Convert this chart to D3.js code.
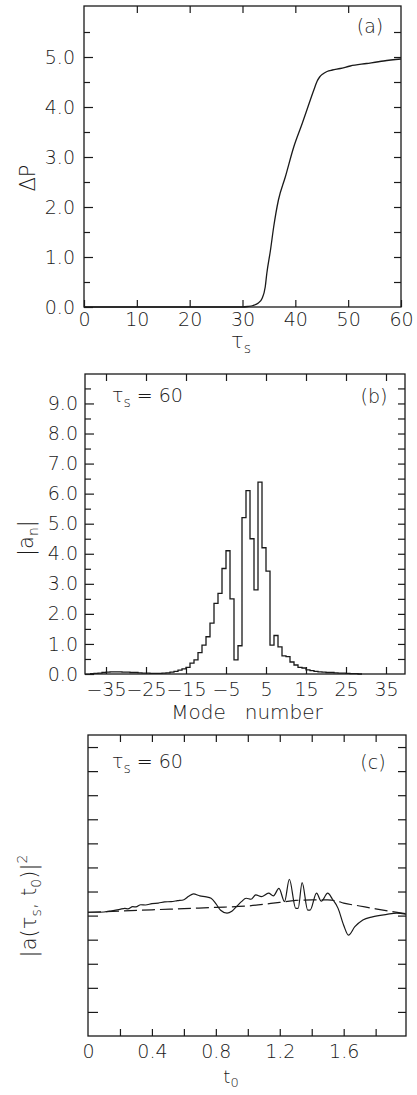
<!DOCTYPE html>
<html><head><meta charset="utf-8">
<script src="https://cdn.jsdelivr.net/npm/d3@7"></script>
<style>
body{margin:0;background:#fff}
svg text{font-family:'DejaVu Sans',sans-serif;font-weight:200;fill:#1a1a1a}
</style>
</head><body>
<svg id="chart" width="417" height="1095"></svg>
<script>
// ---------- Panel (a) data ----------
const tauS   = [0,10,20,28,30,31,32,33,33.7,34.3,34.6,35.3,35.9,36.8,38.1,39.7,41.3,42.7,43.5,44.1,44.6,45.2,46,47,48.5,50.4,53.5,56.7,60];
const deltaP = [0,0,0,0,0,0.01,0.03,0.08,0.17,0.4,0.67,1.14,1.6,2.14,2.6,3.2,3.67,4.1,4.34,4.51,4.6,4.66,4.71,4.74,4.77,4.82,4.87,4.92,4.96];
const aYLabels = [0,1,2,3,4,5];
const aXLabels = [0,10,20,30,40,50,60];

// ---------- Panel (b) data ----------
const modeNumbers = [-39,-38,-37,-36,-35,-34,-33,-32,-31,-30,-29,-28,-27,-26,-25,-24,-23,-22,-21,-20,-19,-18,-17,-16,-15,-14,-13,-12,-11,-10,-9,-8,-7,-6,-5,-4,-3,-2,-1,0,1,2,3,4,5,6,7,8,9,10,11,12,13,14,15,16,17,18,19,20,21,22,23,24,25,26,27,28];
const modeAmps    = [0.01,0.02,0.03,0.05,0.06,0.07,0.07,0.07,0.06,0.06,0.05,0.05,0.04,0.03,0.03,0.02,0.02,0.02,0.03,0.04,0.06,0.09,0.13,0.17,0.22,0.36,0.47,0.71,0.96,1.24,1.69,2.35,2.68,3.51,4.1,2.5,0.47,0.94,5.2,6.1,4.5,2.8,6.38,4.2,3.42,0.96,1.28,0.9,0.6,0.58,0.4,0.3,0.22,0.2,0.14,0.11,0.09,0.07,0.06,0.05,0.05,0.04,0.03,0.03,0.02,0.01,0.01,0];
const bYLabels = [0,1,2,3,4,5,6,7,8,9];
const bXLabels = [-35,-25,-15,-5,5,15,25,35];

// ---------- Panel (c) data ----------
const t0Solid  = [0,0.05,0.1,0.15,0.2,0.23,0.25,0.28,0.3,0.33,0.36,0.4,0.44,0.48,0.52,0.56,0.6,0.63,0.66,0.7,0.74,0.77,0.8,0.83,0.87,0.9,0.93,0.96,0.99,1.02,1.05,1.085,1.13,1.16,1.195,1.23,1.26,1.3,1.315,1.34,1.375,1.39,1.43,1.46,1.5,1.53,1.565,1.6,1.63,1.67,1.72,1.78,1.87,1.93,1.99];
const ampSolid = [5.14,5.14,5.15,5.2,5.26,5.3,5.28,5.37,5.36,5.45,5.44,5.5,5.52,5.57,5.58,5.62,5.66,5.8,5.9,5.82,5.78,5.72,5.5,5.22,5.1,5.18,5.38,5.58,5.72,5.68,5.86,5.79,5.93,5.82,6.13,5.58,6.51,5.3,5.3,6.37,5.23,5.23,5.93,5.6,5.93,5.68,5.3,4.6,4.19,4.54,4.82,4.95,5.05,5.1,5.06];
const t0Dashed  = [0,0.2,0.4,0.6,0.8,1.0,1.2,1.3,1.4,1.5,1.55,1.6,1.7,1.8,1.9,1.99];
const ampDashed = [5.14,5.19,5.24,5.29,5.34,5.4,5.55,5.63,5.65,5.65,5.62,5.52,5.4,5.28,5.17,5.08];
const cXLabels = [0,0.4,0.8,1.2,1.6];

const svg = d3.select('#chart');
const INK = '#1a1a1a';
const FS = 19;

function frame(g, x0, x1, y0, y1){
  g.append('rect').attr('x',x0).attr('y',y0).attr('width',x1-x0).attr('height',y1-y0)
   .attr('fill','none').attr('stroke',INK).attr('stroke-width',1.3);
}
function styleAxis(sel){
  sel.select('.domain').remove();
  sel.selectAll('line').attr('stroke',INK).attr('stroke-width',1.2);
  sel.selectAll('text').attr('font-size',FS).attr('fill',INK).attr('font-family',null);
}
function range(a,b,s){const r=[];for(let v=a;v<=b+1e-9;v+=s)r.push(+v.toFixed(4));return r;}

// ================= Panel (a) =================
{
  const L=84,R=401,T=6,B=307;
  const x=d3.scaleLinear([0,60],[L,R]);
  const y=d3.scaleLinear([0,6.02],[B,T]);
  const g=svg.append('g');
  frame(g,L,R,T,B);
  g.append('g').attr('transform',`translate(${L},0)`).call(d3.axisLeft(y).tickValues(aYLabels).tickSize(-9).tickPadding(9).tickFormat(d3.format('.1f'))).call(styleAxis);
  g.append('g').attr('transform',`translate(${L},0)`).call(d3.axisLeft(y).tickValues(range(0.5,5.5,1)).tickSize(-6).tickFormat('')).call(styleAxis);
  g.append('g').attr('transform',`translate(${R},0)`).call(d3.axisRight(y).tickValues(range(0.5,5.5,0.5)).tickSize(-7).tickFormat('')).call(styleAxis);
  g.append('g').attr('transform',`translate(0,${B})`).call(d3.axisBottom(x).tickValues(aXLabels).tickSize(-7).tickPadding(6).tickFormat(d3.format('d'))).call(styleAxis);
  g.append('g').attr('transform',`translate(0,${T})`).call(d3.axisTop(x).tickValues(aXLabels.slice(1,-1)).tickSize(-7).tickFormat('')).call(styleAxis);
  g.append('path').datum(tauS.map((t,i)=>[t,deltaP[i]]))
   .attr('d',d3.line().x(d=>x(d[0])).y(d=>y(d[1])).curve(d3.curveMonotoneX))
   .attr('fill','none').attr('stroke',INK).attr('stroke-width',1.3);
  g.append('text').attr('x',370).attr('y',33).attr('text-anchor','middle').attr('font-size',FS).text('(a)');
  g.append('text').attr('transform','translate(35,178) rotate(-90)').attr('text-anchor','middle').attr('font-size',FS+2).text('ΔP');
  const xl=g.append('text').attr('x',241).attr('y',348).attr('text-anchor','middle').attr('font-size',FS+2);
  xl.append('tspan').text('τ');
  xl.append('tspan').attr('dy',5).attr('font-size',14).text('s');
}

// ================= Panel (b) =================
{
  const L=85,R=405,T=374,B=674;
  const x=d3.scaleLinear([-40.25,39.75],[L,R]);
  const y=d3.scaleLinear([0,9.98],[B,T]);
  const g=svg.append('g');
  frame(g,L,R,T,B);
  g.append('g').attr('transform',`translate(${L},0)`).call(d3.axisLeft(y).tickValues(bYLabels).tickSize(-9).tickPadding(7).tickFormat(d3.format('.1f'))).call(styleAxis);
  g.append('g').attr('transform',`translate(${L},0)`).call(d3.axisLeft(y).tickValues(range(0.5,9.5,1)).tickSize(-6).tickFormat('')).call(styleAxis);
  g.append('g').attr('transform',`translate(${R},0)`).call(d3.axisRight(y).tickValues(range(0.5,9.5,0.5)).tickSize(-7).tickFormat('')).call(styleAxis);
  g.append('g').attr('transform',`translate(0,${B})`).call(d3.axisBottom(x).tickValues(bXLabels).tickSize(-7).tickPadding(9).tickFormat(d3.format('d'))).call(styleAxis);
  g.append('g').attr('transform',`translate(0,${T})`).call(d3.axisTop(x).tickValues(bXLabels).tickSize(-7).tickFormat('')).call(styleAxis);
  const pts=modeNumbers.map((n,i)=>[n,modeAmps[i]]);
  pts.push([modeNumbers[modeNumbers.length-1]+1, modeAmps[modeAmps.length-1]]);
  g.append('path').datum(pts)
   .attr('d',d3.line().x(d=>x(d[0])).y(d=>y(d[1])).curve(d3.curveStepAfter))
   .attr('fill','none').attr('stroke',INK).attr('stroke-width',1.3);
  g.append('text').attr('x',374).attr('y',403).attr('text-anchor','middle').attr('font-size',FS).text('(b)');
  const tl=g.append('text').attr('x',112).attr('y',402).attr('font-size',FS);
  tl.append('tspan').text('τ');
  tl.append('tspan').attr('dy',5).attr('font-size',14).text('s');
  tl.append('tspan').attr('dy',-5).text(' = 60');
  const yl=g.append('text').attr('transform','translate(33,538) rotate(-90)').attr('text-anchor','middle').attr('font-size',FS+2);
  yl.append('tspan').text('|a');
  yl.append('tspan').attr('dy',5).attr('font-size',14).text('n');
  yl.append('tspan').attr('dy',-5).text('|');
  g.append('text').attr('x',247).attr('y',719).attr('text-anchor','middle').attr('font-size',FS+1).style('white-space','pre').text('Mode   number');
}

// ================= Panel (c) =================
{
  const L=88,R=406,T=735,B=1036;
  const x=d3.scaleLinear([0,1.99],[L,R]);
  const y=d3.scaleLinear([0,12.5],[B,T]);
  const g=svg.append('g');
  frame(g,L,R,T,B);
  g.append('g').attr('transform',`translate(${L},0)`).call(d3.axisLeft(y).tickValues(range(1,12,1)).tickSize(-10).tickFormat('')).call(styleAxis);
  g.append('g').attr('transform',`translate(${R},0)`).call(d3.axisRight(y).tickValues(range(1,12,1)).tickSize(-8).tickFormat('')).call(styleAxis);
  g.append('g').attr('transform',`translate(0,${B})`).call(d3.axisBottom(x).tickValues(range(0.2,1.8,0.2)).tickSize(-7).tickFormat('')).call(styleAxis);
  g.append('g').attr('transform',`translate(0,${B})`).call(d3.axisBottom(x).tickValues(cXLabels).tickSize(0).tickPadding(9).tickFormat(d=>d===0?'0':d3.format('.1f')(d))).call(styleAxis);
  g.append('g').attr('transform',`translate(0,${T})`).call(d3.axisTop(x).tickValues(range(0.2,1.8,0.2)).tickSize(-7).tickFormat('')).call(styleAxis);
  g.append('path').datum(t0Dashed.map((t,i)=>[t,ampDashed[i]]))
   .attr('d',d3.line().x(d=>x(d[0])).y(d=>y(d[1])).curve(d3.curveMonotoneX))
   .attr('fill','none').attr('stroke',INK).attr('stroke-width',1.2).attr('stroke-dasharray','13,5');
  g.append('path').datum(t0Solid.map((t,i)=>[t,ampSolid[i]]))
   .attr('d',d3.line().x(d=>x(d[0])).y(d=>y(d[1])).curve(d3.curveMonotoneX))
   .attr('fill','none').attr('stroke',INK).attr('stroke-width',1.2);
  g.append('text').attr('x',373).attr('y',769).attr('text-anchor','middle').attr('font-size',FS).text('(c)');
  const tl=g.append('text').attr('x',112).attr('y',768).attr('font-size',FS);
  tl.append('tspan').text('τ');
  tl.append('tspan').attr('dy',5).attr('font-size',14).text('s');
  tl.append('tspan').attr('dy',-5).text(' = 60');
  const yl=g.append('text').attr('transform','translate(36,906) rotate(-90)').attr('text-anchor','middle').attr('font-size',FS+2);
  yl.append('tspan').text('|a(τ');
  yl.append('tspan').attr('dy',5).attr('font-size',14).text('s');
  yl.append('tspan').attr('dy',-5).text(', t');
  yl.append('tspan').attr('dy',5).attr('font-size',14).text('0');
  yl.append('tspan').attr('dy',-5).text(')|');
  yl.append('tspan').attr('dy',-9).attr('font-size',14).text('2');
  const xl=g.append('text').attr('x',231).attr('y',1083).attr('text-anchor','middle').attr('font-size',18);
  xl.append('tspan').text('t');
  xl.append('tspan').attr('dy',4).attr('font-size',13).text('0');
}
</script>
</body></html>
